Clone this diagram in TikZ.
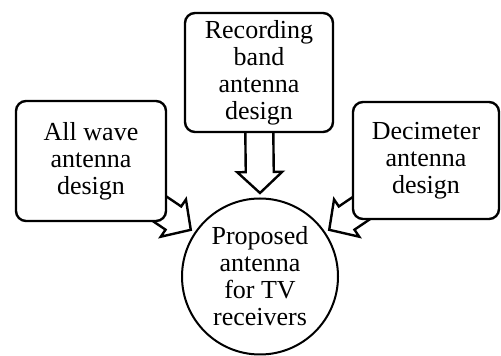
\documentclass[tikz,border=0pt]{standalone}
\usepackage{fontspec}
\setmainfont{Liberation Serif}
\usetikzlibrary{calc}
\tikzset{
  designbox/.style={draw, line width=2.4pt, rounded corners=10pt, fill=white,
    align=center, inner sep=0pt, font=\fontsize{26}{27}\selectfont},
  goal/.style={draw, circle, line width=2pt, fill=white, align=center,
    inner sep=0pt, minimum size=156pt, font=\fontsize{26}{27}\selectfont},
  blockarrow/.style={draw, line width=2.4pt, fill=white, line join=miter}
}
% hollow block arrow from #1 to its tip #2
\newcommand{\hollowarrow}[2]{%
  \coordinate (hb) at ($(#2)!21pt!(#1)$);
  \draw[blockarrow]
    ($(#1)!14pt!90:(#2)$) -- ($(hb)!14pt!90:(#2)$) -- ($(hb)!22.5pt!90:(#2)$)
    -- (#2) -- ($(hb)!22.5pt!-90:(#2)$) -- ($(hb)!14pt!-90:(#2)$)
    -- ($(#1)!14pt!-90:(#2)$) -- cycle;}
\begin{document}
\begin{tikzpicture}[x=1pt,y=1pt]
\useasboundingbox (0,0) rectangle (501,356);

\node[goal] (prop) at (260,79.5) {Proposed\\antenna\\for TV\\receivers};

% arrow tips stand just clear of the circle
\coordinate (tipL) at ($(prop.center)+(146:83.5)$);
\coordinate (tipR) at ($(prop.center)+(34:83.5)$);
\coordinate (tipT) at ($(prop.center)+(90:83.5)$);
\coordinate (srcL) at ($(tipL)!-70pt!(prop.center)$);
\coordinate (srcR) at ($(tipR)!-70pt!(prop.center)$);
\coordinate (srcT) at (259,250);

\hollowarrow{srcL}{tipL}
\hollowarrow{srcR}{tipR}
\hollowarrow{srcT}{tipT}

\node[designbox, minimum width=148pt, minimum height=119pt] (rec) at (259,283.5)
  {Recording\\band\\antenna\\design};
\node[designbox, minimum width=150pt, minimum height=120pt] (all) at (91,195)
  {All wave\\antenna\\design};
\node[designbox, minimum width=146pt, minimum height=117pt] (dec) at (426,195.5)
  {Decimeter\\antenna\\design};
\end{tikzpicture}
\end{document}
